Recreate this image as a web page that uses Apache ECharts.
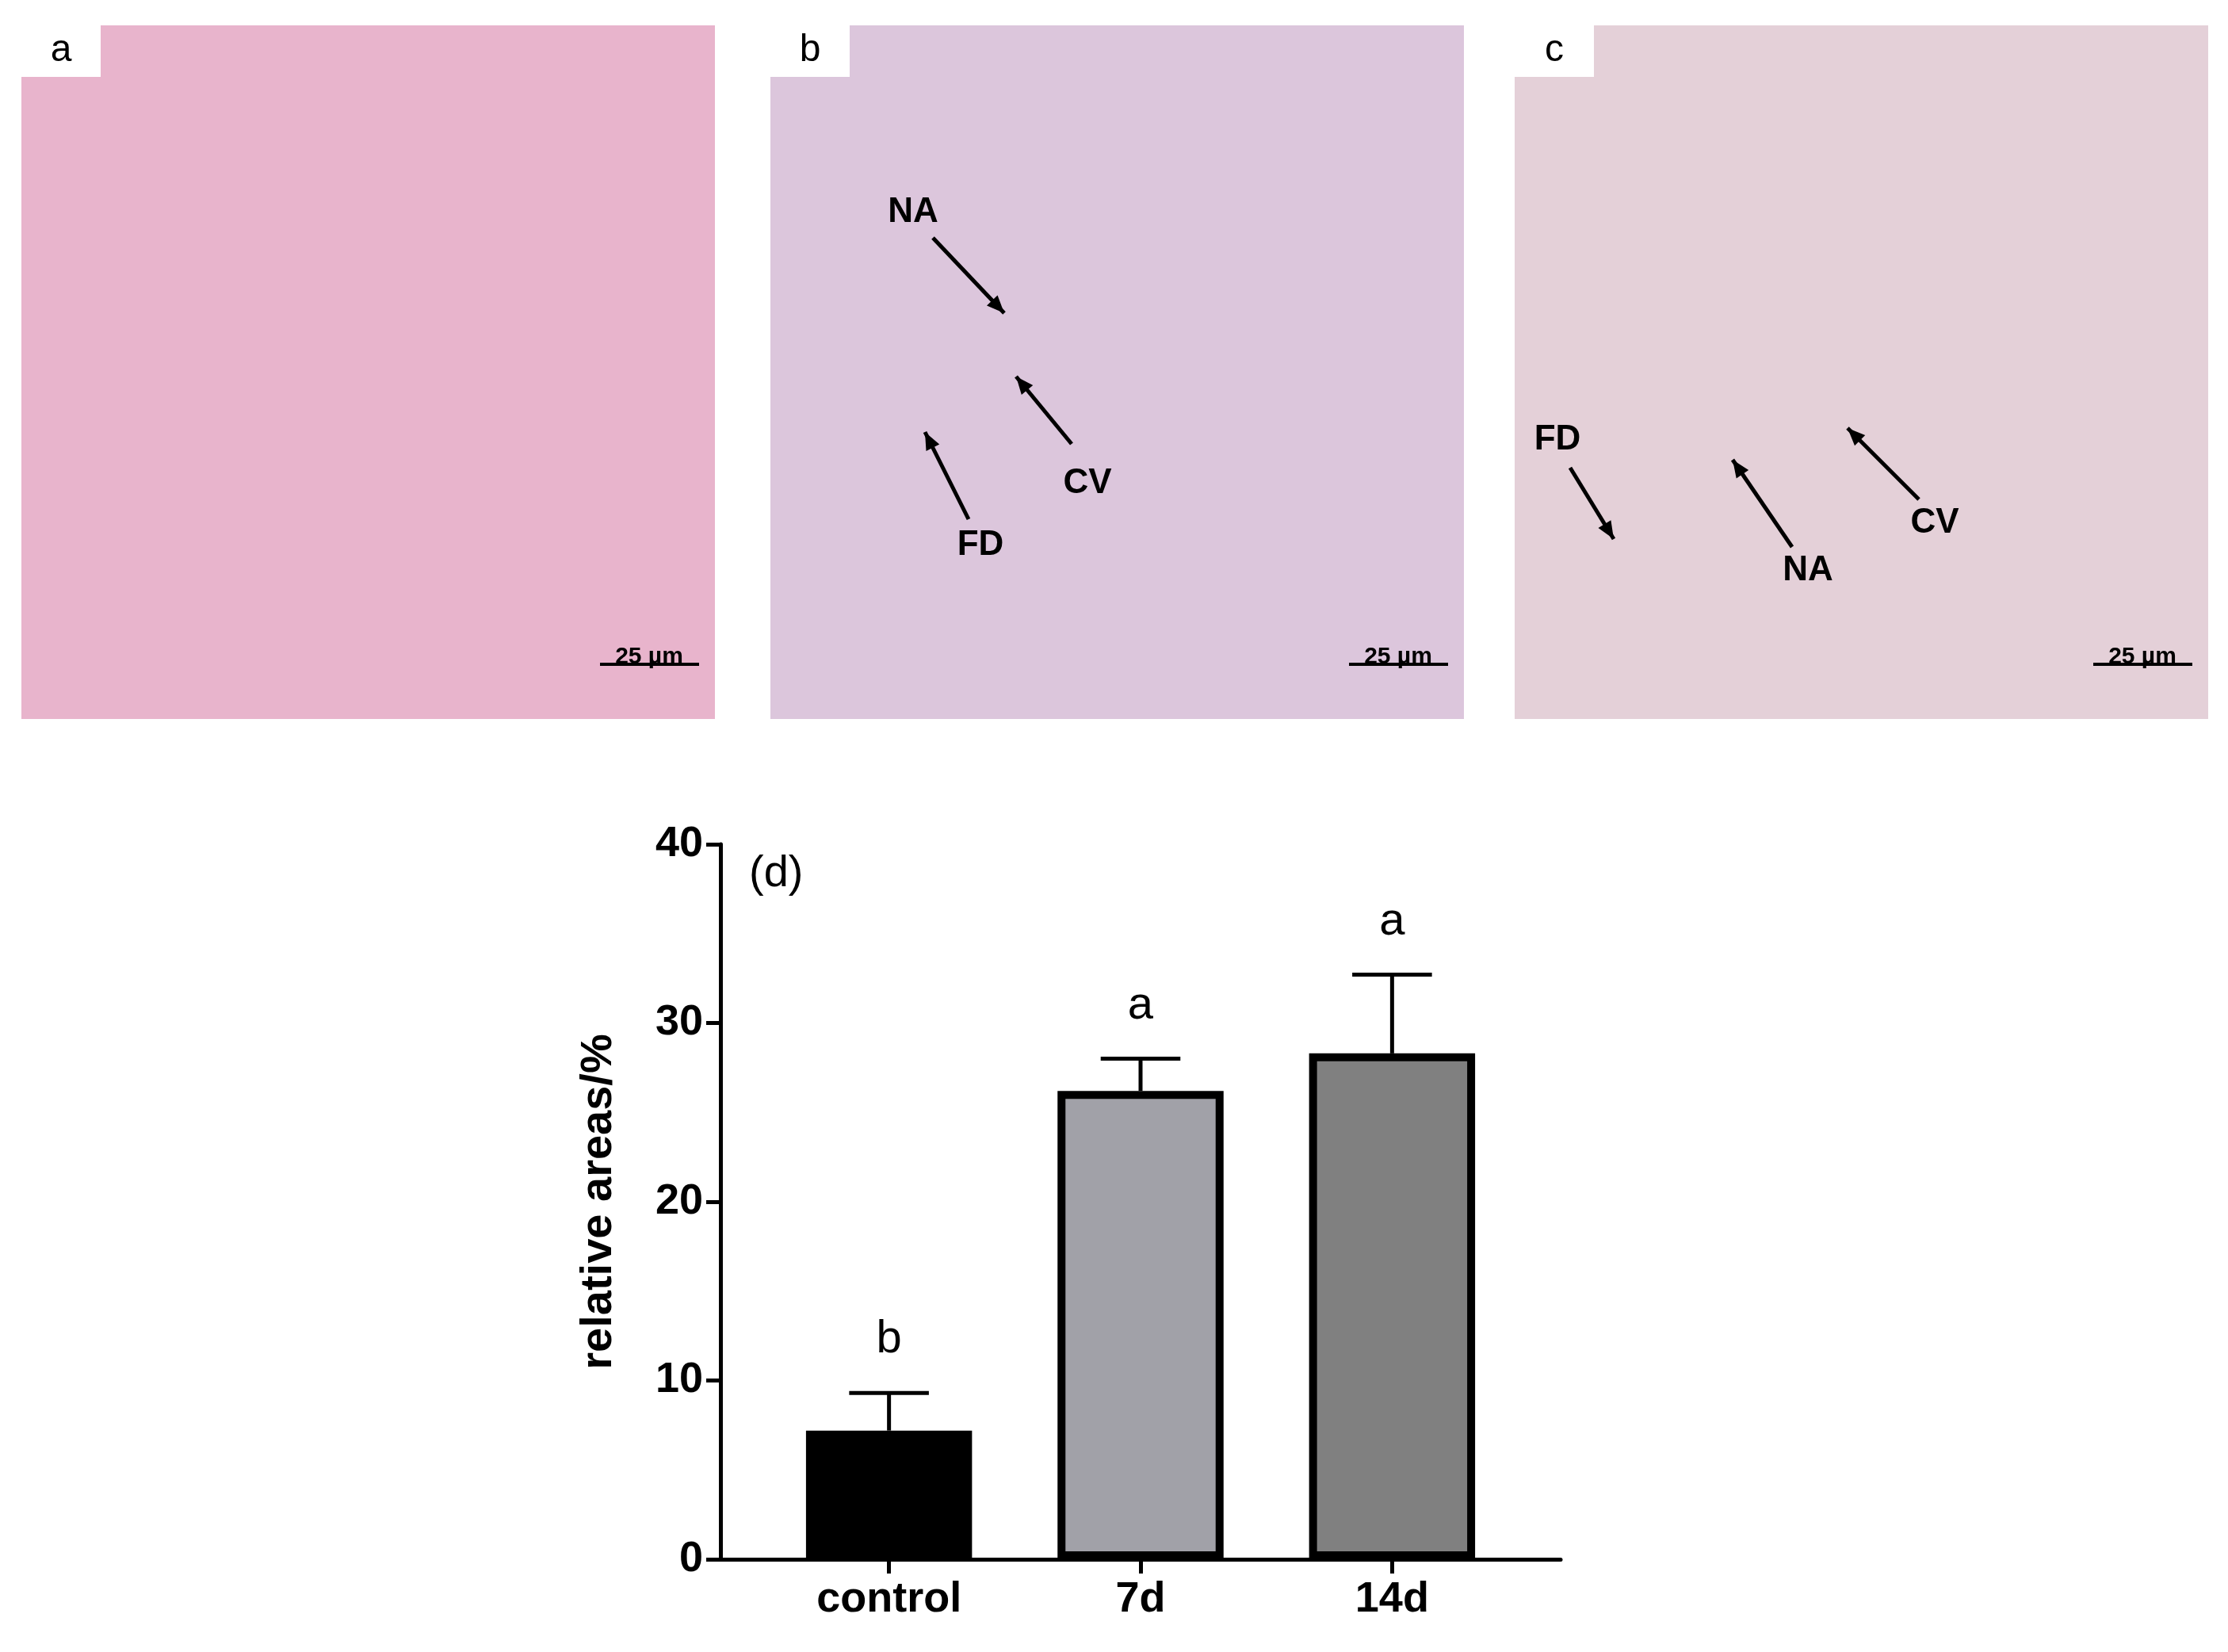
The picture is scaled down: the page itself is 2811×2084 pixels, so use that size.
<!DOCTYPE html>
<html><head><meta charset="utf-8">
<script src="https://cdn.jsdelivr.net/npm/echarts@6/dist/echarts.min.js"></script>
<style>html,body{margin:0;background:#fff}#c{width:2811px;height:2084px}</style>
</head><body><div id="c"></div>
<script>
const categories = ['control', '7d', '14d'];
const means = [7.2, 26.2, 28.3];
const upperErr = [9.3, 28.0, 32.7];
const letters = ['b', 'a', 'a'];
const barColors = ['#000000', '#a1a1a8', '#808080'];
const yTicks = [0, 10, 20, 30, 40];

const chart = echarts.init(document.getElementById('c'));
const F = 'Liberation Sans, Arial, sans-serif';

function panel(x, letter, fill, labels) {
  const g = [
    {type:'rect', shape:{x:x, y:32, width:875, height:875}, style:{fill:fill}},
    {type:'rect', shape:{x:x, y:32, width:100, height:65}, style:{fill:'#fff'}},
    {type:'text', x:x+50, y:64, style:{text:letter, font:'48px '+F, fill:'#000', align:'center', verticalAlign:'middle'}},
    {type:'line', shape:{x1:x+730, y1:838, x2:x+855, y2:838}, style:{stroke:'#000', lineWidth:4}},
    {type:'text', x:x+792, y:814, style:{text:'25 µm', font:'bold 30px '+F, fill:'#000', align:'center'}}
  ];
  labels.forEach(l => {
    g.push({type:'text', x:x+l[0], y:l[1], style:{text:l[2], font:'bold 44px '+F, fill:'#000', align:'center', verticalAlign:'middle'}});
    g.push({type:'line', shape:{x1:x+l[3], y1:l[4], x2:x+l[5], y2:l[6]}, style:{stroke:'#000', lineWidth:5}});
    const ang = Math.atan2(l[6]-l[4], l[5]-l[3]);
    const ax = x+l[5], ay = l[6], s = 24;
    g.push({type:'polygon', shape:{points:[[ax,ay],[ax-s*Math.cos(ang-0.4), ay-s*Math.sin(ang-0.4)],[ax-s*Math.cos(ang+0.4), ay-s*Math.sin(ang+0.4)]]}, style:{fill:'#000'}});
  });
  return g;
}

const graphics = [].concat(
  panel(27, 'a', '#e8b4cc', []),
  panel(972, 'b', '#dcc6dc', [[180,268,'NA',205,300,295,395],[400,610,'CV',380,560,310,475],[265,688,'FD',250,655,195,545]]),
  panel(1911, 'c', '#e4d0d8', [[54,555,'FD',70,590,125,680],[370,720,'NA',350,690,275,580],[530,660,'CV',510,630,420,540]]),
  [{type:'text', x:945, y:1075, style:{text:'(d)', font:'56px '+F, fill:'#000'}}]
);

chart.setOption({
  animation:false,
  graphic: graphics,
  grid:{left:909, right:2811-1969, top:1065, bottom:2084-1967, containLabel:false},
  xAxis:{type:'value', min:-0.67, max:2.67,
    axisLine:{show:true, onZero:false, lineStyle:{color:'#000', width:5}},
    splitLine:{show:false},
    axisTick:{show:true, customValues:[0,1,2], length:18, lineStyle:{color:'#000', width:5}},
    axisLabel:{customValues:[0,1,2], formatter:v=>categories[Math.round(v)], color:'#000', fontSize:54, fontWeight:'bold', fontFamily:F, margin:24}},
  yAxis:{type:'value', min:0, max:40, interval:10,
    name:'relative areas/%', nameLocation:'middle', nameGap:125,
    nameTextStyle:{color:'#000', fontSize:56, fontWeight:'bold', fontFamily:F},
    axisLine:{show:true, onZero:false, lineStyle:{color:'#000', width:5}},
    splitLine:{show:false},
    axisTick:{show:true, length:18, lineStyle:{color:'#000', width:5}},
    axisLabel:{color:'#000', fontSize:54, fontWeight:'bold', fontFamily:F, margin:22,
      formatter:v=>yTicks.includes(v)?String(v):''}},
  series:[
    {type:'custom', z:3, data:means.map((m,i)=>[i,m,upperErr[i]]),
      renderItem:(p,api)=>{
        const i=api.value(0);
        const w=api.size([1,0])[0]*0.66;
        const top=api.coord([i,api.value(1)]);
        const base=api.coord([i,0]);
        const eTop=api.coord([i,api.value(2)]);
        const capW=w*0.48;
        return {type:'group', children:[
          {type:'line', shape:{x1:top[0], y1:top[1], x2:eTop[0], y2:eTop[1]}, style:{stroke:'#000', lineWidth:5}},
          {type:'line', shape:{x1:top[0]-capW/2, y1:eTop[1], x2:top[0]+capW/2, y2:eTop[1]}, style:{stroke:'#000', lineWidth:5}},
          {type:'rect', shape:{x:top[0]-w/2+5, y:top[1]+5, width:w-10, height:base[1]-top[1]-10}, style:{fill:barColors[i], stroke:'#000', lineWidth:10}},
          {type:'text', x:top[0], y:eTop[1]-38, style:{text:letters[i], font:'58px '+F, fill:'#000', align:'center', verticalAlign:'bottom'}}
        ]};
      }}
  ]
});
</script></body></html>
